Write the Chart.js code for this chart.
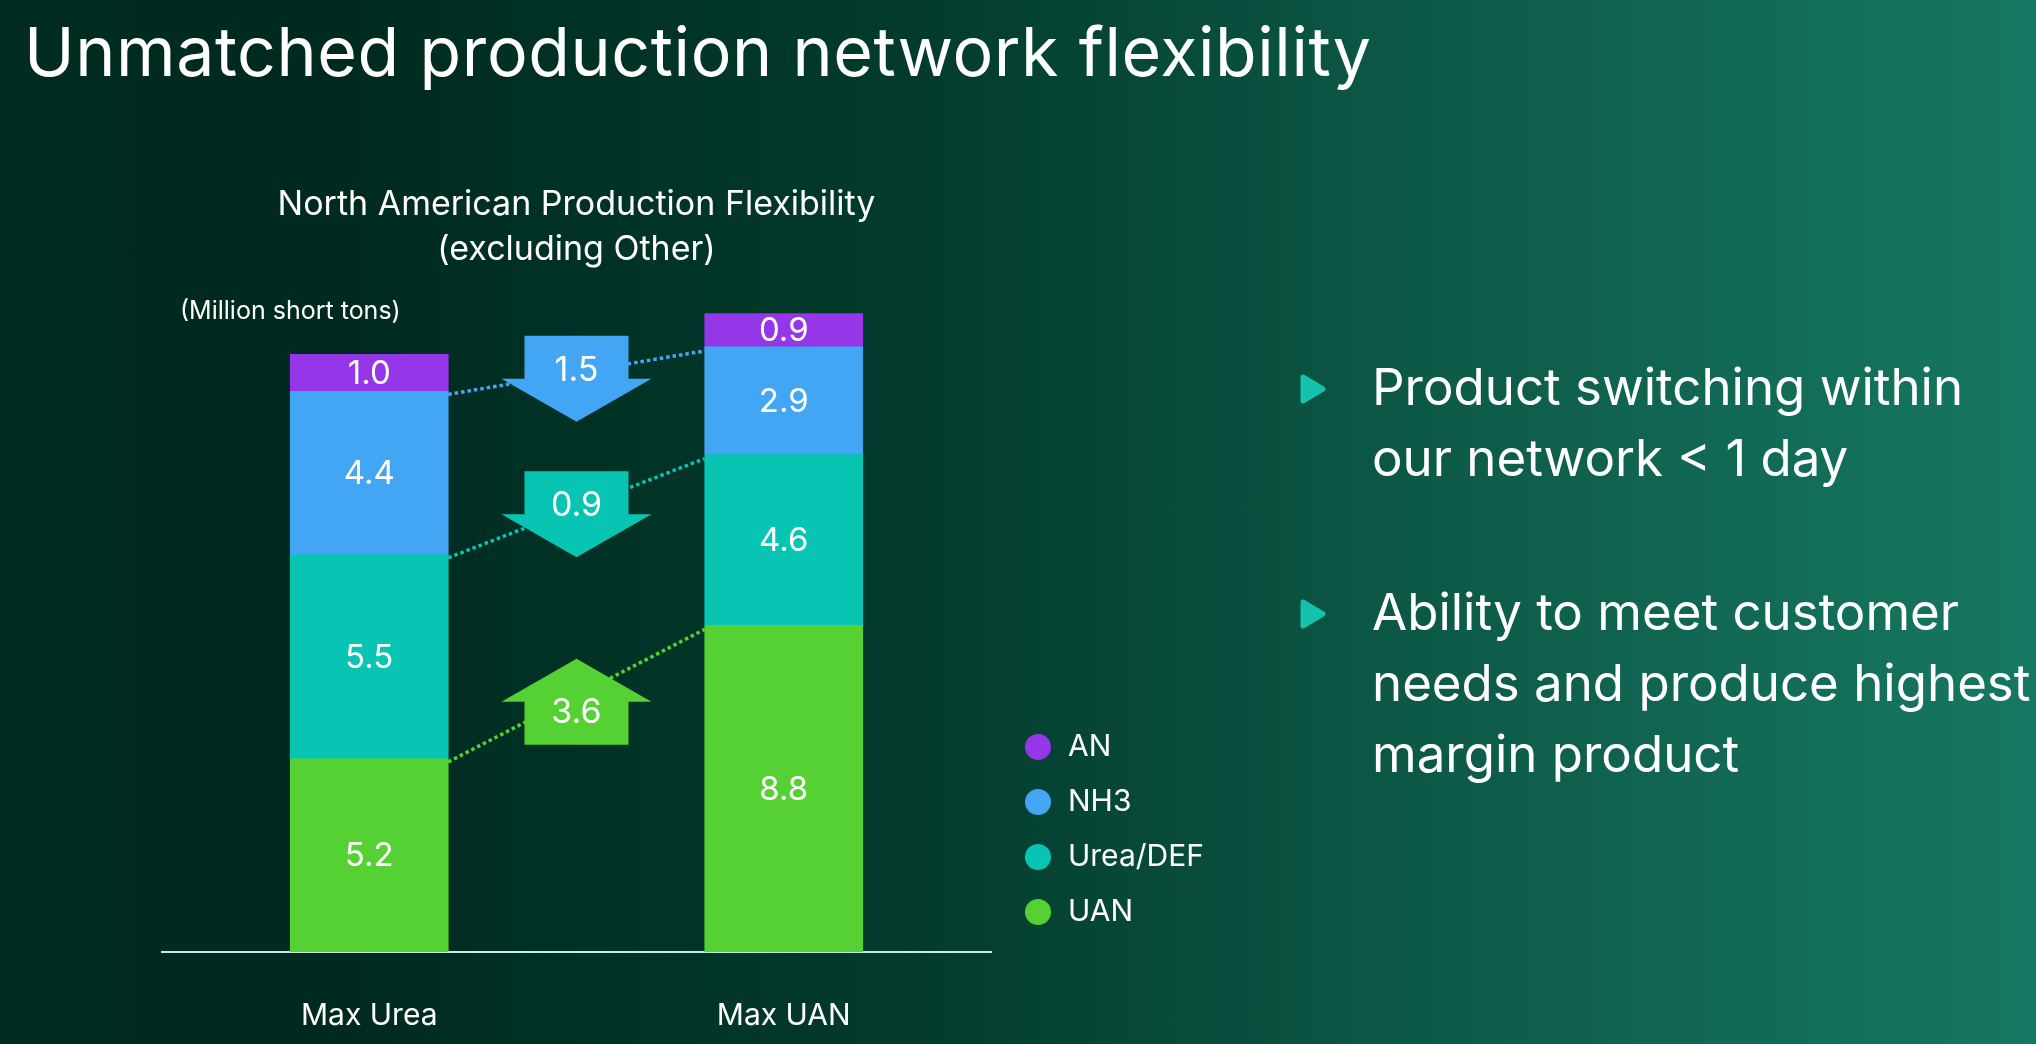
<!DOCTYPE html>
<html>
<head>
<meta charset="utf-8">
<title>Unmatched production network flexibility</title>
<script src="https://cdn.jsdelivr.net/npm/chart.js@4.4.1/dist/chart.umd.min.js"></script>
<style>
    html, body {
        margin: 0;
        padding: 0;
    }
    body {
        position: relative;
        width: 2036px;
        height: 1044px;
        overflow: hidden;
        color: #ffffff;
        font-family: Inter, 'Noto Sans', sans-serif;
        background: linear-gradient(90deg, #002c21 0%, #00291f 15%, #023b2d 45%, #0c5745 68%, #167862 100%);
    }
    h1 {
        position: absolute;
        left: 24px;
        top: 17px;
        margin: 0;
        font-size: 68px;
        font-weight: 400;
        letter-spacing: 0.6px;
        line-height: 1;
        white-space: nowrap;
    }
    .chart-box {
        position: absolute;
        left: 0;
        top: 0;
        width: 1300px;
        height: 1044px;
    }
    .points {
        position: absolute;
        left: 1372px;
        top: 351px;
        margin: 0;
        padding: 0;
        list-style: none;
        font-size: 51px;
        line-height: 71px;
    }
    .points li {
        position: relative;
        margin-bottom: 83px;
        white-space: nowrap;
    }
    .points svg {
        position: absolute;
        left: -72px;
        top: 23px;
    }
</style>
</head>
<body>
<h1>Unmatched production network flexibility</h1>

<div class="chart-box">
    <canvas id="flexChart"></canvas>
</div>

<ul class="points">
    <li>
        <svg width="26" height="30" viewBox="0 0 26 30"><polygon points="3,3 23,15 3,27" fill="#14c2ad" stroke="#14c2ad" stroke-width="5" stroke-linejoin="round"/></svg>
        Product switching within<br>our network &lt; 1 day
    </li>
    <li>
        <svg width="26" height="30" viewBox="0 0 26 30"><polygon points="3,3 23,15 3,27" fill="#14c2ad" stroke="#14c2ad" stroke-width="5" stroke-linejoin="round"/></svg>
        Ability to meet customer<br>needs and produce highest<br>margin product
    </li>
</ul>

<script>
// Chart data (million short tons)
const categories = ['Max Urea', 'Max UAN'];
const uanValues = [5.2, 8.8];
const ureaValues = [5.5, 4.6];
const nh3Values = [4.4, 2.9];
const anValues = [1.0, 0.9];

// Shift between the two cases, drawn as arrows between the bars
const shiftSeries = ['NH3', 'Urea/DEF', 'UAN'];
const shiftValues = [1.5, 0.9, 3.6];
const shiftDirections = ['down', 'down', 'up'];

const colors = {
    an: '#9536e8',
    nh3: '#42a6f5',
    urea: '#08c4b3',
    uan: '#56d134',
    axis: '#c4eddf',
    text: '#ffffff'
};

const fontFamily = 'Inter, "Noto Sans", sans-serif';

// Legend geometry (circle + label column to the right of the bars)
const legendFont = 30;
const legendBox = 30;      // Chart.js caps the point box at the font size
const legendPadding = 25;
const legendGap = 7;       // empty strip between plot and legend
const canvasWidth = 1300;
const plotLeft = 162;
const plotRight = 991;

// legend width is fixed so that the plot area keeps the same right edge
const measureLegendWidth = () => {
    const m = document.createElement('canvas').getContext('2d');
    m.font = `${legendFont}px ${fontFamily}`;
    const widest = Math.max(...['AN', 'NH3', 'Urea/DEF', 'UAN'].map(t => m.measureText(t).width));
    return Math.ceil(legendPadding + legendBox + legendFont / 2 + widest + 6);
};

// Value labels inside each bar segment
const segmentLabels = {
    id: 'segmentLabels',
    afterDatasetsDraw(chart) {
        const { ctx } = chart;
        ctx.save();
        ctx.fillStyle = colors.text;
        ctx.font = `400 33px ${fontFamily}`;
        ctx.textAlign = 'center';
        ctx.textBaseline = 'middle';
        chart.data.datasets.forEach((dataset, i) => {
            chart.getDatasetMeta(i).data.forEach((bar, j) => {
                const { x, y, base } = bar.getProps(['x', 'y', 'base'], true);
                ctx.fillText(dataset.data[j].toFixed(1), x, (y + base) / 2 + 1);
            });
        });
        ctx.restore();
    }
};

// Dotted connectors and shift arrows between the two bars
const shiftArrows = {
    id: 'shiftArrows',
    afterDatasetsDraw(chart) {
        const { ctx } = chart;
        ctx.save();

        const shapes = shiftSeries.map((name, k) => {
            const idx = chart.data.datasets.findIndex(d => d.label === name);
            const meta = chart.getDatasetMeta(idx);
            const a = meta.data[0].getProps(['x', 'y', 'width'], true);
            const b = meta.data[1].getProps(['x', 'y', 'width'], true);
            const x0 = a.x + a.width / 2;
            const x1 = b.x - b.width / 2;
            const y0 = a.y + 3;
            const y1 = b.y + 4;
            const color = chart.data.datasets[idx].backgroundColor;

            ctx.strokeStyle = color;
            ctx.lineWidth = 3.5;
            ctx.setLineDash([3.5, 3]);
            ctx.beginPath();
            ctx.moveTo(x0, y0);
            ctx.lineTo(x1, y1);
            ctx.stroke();

            return { cx: (x0 + x1) / 2, cy: (y0 + y1) / 2 + 6, color, value: shiftValues[k], dir: shiftDirections[k] };
        });

        ctx.setLineDash([]);
        shapes.forEach(s => {
            const shaftHalf = 52;
            const headHalf = 75;
            const half = 43;
            const sign = s.dir === 'down' ? 1 : -1;
            const start = s.cy - sign * half;   // flat end of the shaft
            const neck = s.cy;                 // where the head begins
            const tip = s.cy + sign * half;

            ctx.fillStyle = s.color;
            ctx.beginPath();
            ctx.moveTo(s.cx - shaftHalf, start);
            ctx.lineTo(s.cx + shaftHalf, start);
            ctx.lineTo(s.cx + shaftHalf, neck);
            ctx.lineTo(s.cx + headHalf, neck);
            ctx.lineTo(s.cx, tip);
            ctx.lineTo(s.cx - headHalf, neck);
            ctx.lineTo(s.cx - shaftHalf, neck);
            ctx.closePath();
            ctx.fill();

            ctx.fillStyle = colors.text;
            ctx.font = `400 34px ${fontFamily}`;
            ctx.textAlign = 'center';
            ctx.textBaseline = 'middle';
            ctx.fillText(s.value.toFixed(1), s.cx, s.dir === 'down' ? s.cy - 8 : s.cy + 11);
        });

        // unit note above the first bar
        ctx.fillStyle = colors.text;
        ctx.font = `400 25px ${fontFamily}`;
        ctx.textAlign = 'left';
        ctx.fillText('(Million short tons)', chart.chartArea.left + 18, chart.chartArea.top + 28);

        ctx.restore();
    }
};

const initFlexChart = () => {
    const ctx = document.getElementById('flexChart').getContext('2d');
    const legendWidth = measureLegendWidth();
    const data = {
        labels: categories,
        datasets: [
            { label: 'UAN', data: uanValues, backgroundColor: colors.uan },
            { label: 'Urea/DEF', data: ureaValues, backgroundColor: colors.urea },
            { label: 'NH3', data: nh3Values, backgroundColor: colors.nh3 },
            { label: 'AN', data: anValues, backgroundColor: colors.an }
        ]
    };

    const options = {
        responsive: true,
        maintainAspectRatio: false,
        animation: false,
        layout: {
            padding: {
                left: plotLeft,
                right: canvasWidth - plotRight - legendGap - legendWidth,
                top: 0,
                bottom: 0
            }
        },
        datasets: {
            bar: {
                barThickness: 158,
                borderWidth: 0
            }
        },
        plugins: {
            title: {
                display: true,
                fullSize: false,
                text: ['North American Production Flexibility', '(excluding Other)'],
                color: colors.text,
                font: { family: fontFamily, size: 34, weight: '400', lineHeight: 1.32 },
                padding: { top: 182.5, bottom: 11.5 }
            },
            legend: {
                position: 'right',
                align: 'end',
                fullSize: false,
                maxWidth: legendWidth,
                reverse: true,
                labels: {
                    usePointStyle: true,
                    pointStyle: 'circle',
                    boxWidth: legendBox,
                    boxHeight: 18.4,
                    padding: legendPadding,
                    color: colors.text,
                    font: { family: fontFamily, size: legendFont }
                }
            },
            tooltip: { enabled: false }
        },
        scales: {
            x: {
                stacked: true,
                grid: { display: false, drawTicks: false },
                border: { display: true, color: colors.axis, width: 2 },
                ticks: {
                    color: colors.text,
                    padding: 46,
                    font: { family: fontFamily, size: 30 }
                },
                afterFit: (scale) => {
                    scale.height = 92;
                }
            },
            y: {
                stacked: true,
                display: false,
                min: 0,
                max: 18
            },
            // blank spacer axis between the bars and the legend
            gap: {
                position: 'right',
                display: true,
                grid: { display: false },
                border: { display: false },
                ticks: { display: false },
                afterFit: (scale) => {
                    scale.width = legendGap;
                }
            }
        }
    };

    new Chart(ctx, {
        type: 'bar',
        data,
        options,
        plugins: [segmentLabels, shiftArrows]
    });
};

// wait for the local font so text measurements match what Chart.js sees
document.addEventListener('DOMContentLoaded', () => {
    document.fonts.load(`${legendFont}px Inter`).then(initFlexChart, initFlexChart);
});
</script>
</body>
</html>
